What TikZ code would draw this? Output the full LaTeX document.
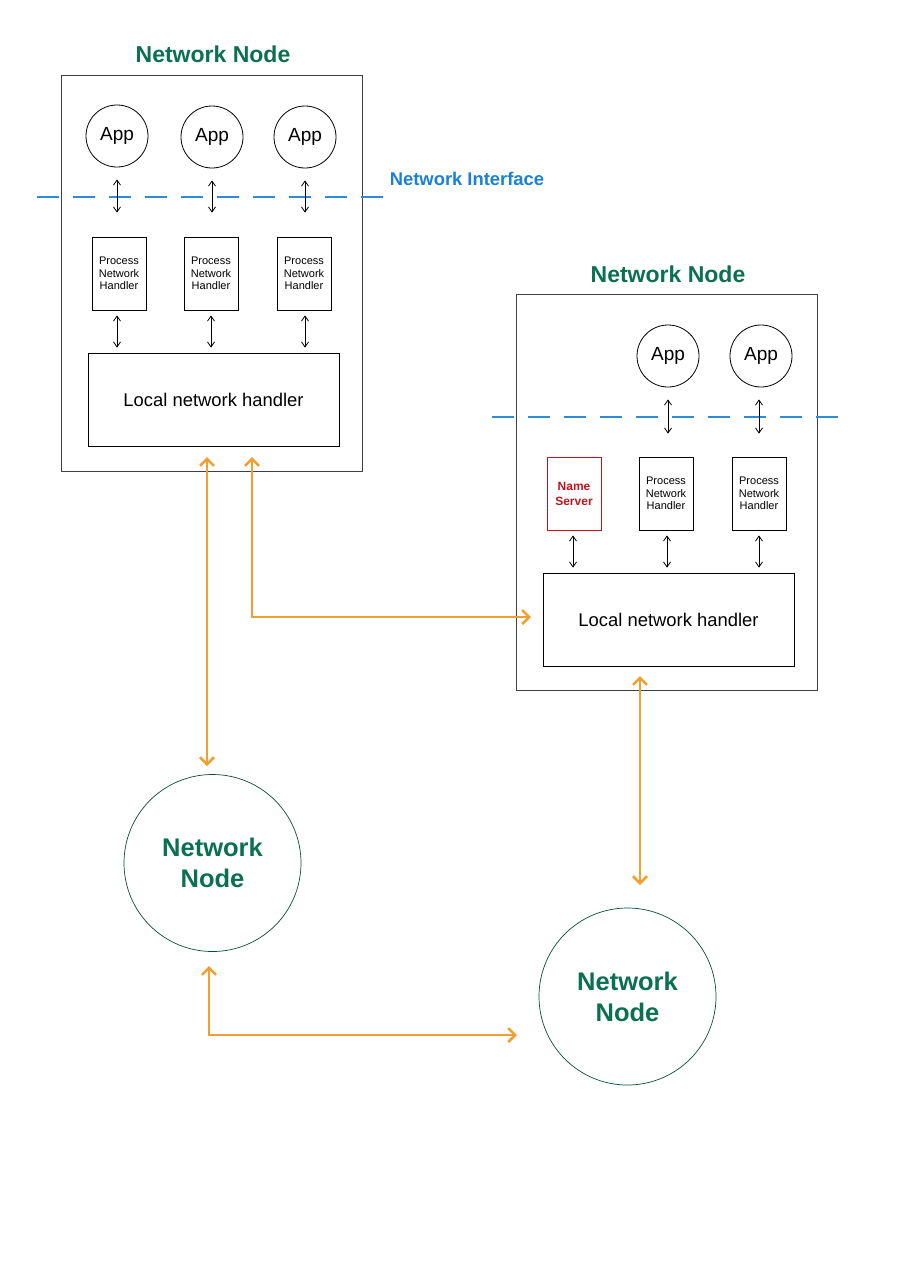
\documentclass[tikz,border=0pt]{standalone}
\usepackage{fontspec}
\setmainfont{Liberation Sans}
\usetikzlibrary{arrows.meta}
\definecolor{nodegreen}{HTML}{0A7050}
\definecolor{ifblue}{HTML}{1A80D8}
\definecolor{dashblue}{HTML}{2F8AD8}
\definecolor{orangec}{HTML}{F0A030}
\definecolor{nsred}{HTML}{C0141C}
\definecolor{boxgray}{HTML}{404040}
\tikzset{
  outerbox/.style={draw=boxgray, line width=1pt, minimum width=301pt, minimum height=396pt, inner sep=0pt},
  appnode/.style={circle, draw=black, line width=0.8pt, minimum size=62pt, inner sep=0pt, font=\fontsize{19}{22}\selectfont},
  pnhbox/.style={draw=black, line width=0.8pt, minimum width=54pt, minimum height=73pt, inner sep=0pt, align=center, font=\fontsize{11}{12.5}\selectfont},
  nsbox/.style={draw=nsred, line width=0.8pt, minimum width=54pt, minimum height=73pt, inner sep=0pt, align=center, text=nsred, font=\bfseries\fontsize{12}{15}\selectfont},
  lnhbox/.style={draw=black, line width=0.8pt, minimum width=251pt, minimum height=93pt, inner sep=0pt, font=\fontsize{18.4}{22}\selectfont},
  titletext/.style={text=nodegreen, font=\bfseries\fontsize{23}{26}\selectfont},
  bignode/.style={circle, draw=nodegreen!70!black, line width=0.7pt, minimum size=177pt, inner sep=0pt, align=center, text=nodegreen, font=\bfseries\fontsize{25.5}{31}\selectfont},
  iface/.style={draw=dashblue, line width=1.1pt, dash pattern=on 22pt off 14pt},
  sarrow/.style={draw=black, line width=0.8pt, {Straight Barb[length=5pt,width=7pt]}-{Straight Barb[length=5pt,width=7pt]}},
  oarrow/.style={draw=orangec, line width=2.5pt, {Straight Barb[length=7pt,width=14pt]}-{Straight Barb[length=7pt,width=14pt]}}
}
\begin{document}
\begin{tikzpicture}[x=1pt, y=-1pt]
\fill[white] (0,0) rectangle (905,1280);
\useasboundingbox (0,0) rectangle (905,1280);

% ---------- Node 1 ----------
\node[titletext] (t1) at (213,54) {Network Node};
\node[outerbox] (box1) at (211.5,273) {};
\node[appnode] (a11) at (117,136) {App};
\node[appnode] (a12) at (212,137) {App};
\node[appnode] (a13) at (305,137) {App};
\coordinate (if1l) at (37,197);
\coordinate (if1r) at (390,197);
\draw[iface] (if1l) -- (if1r);
\node[text=ifblue, font=\bfseries\fontsize{18.4}{21}\selectfont] (ni) at (467,179) {Network Interface};
\node[pnhbox] (p11) at (119,273.5) {Process\\Network\\Handler};
\node[pnhbox] (p12) at (211,273.5) {Process\\Network\\Handler};
\node[pnhbox] (p13) at (304,273.5) {Process\\Network\\Handler};
\node[lnhbox] (l1) at (213.5,399.5) {Local network handler};
\foreach \a/\p in {a11/p11,a12/p12,a13/p13}{
  \draw[sarrow] ([yshift=-12pt]\a.south) -- ([yshift=24pt]\p.north-|\a.south);
}
\draw[sarrow] ([yshift=-5pt]p11.south-|a11) -- ([yshift=5pt]l1.north-|a11);
\draw[sarrow] ([yshift=-5pt]p12.south) -- ([yshift=5pt]l1.north-|p12);
\draw[sarrow] ([yshift=-5pt]p13.south-|a13) -- ([yshift=5pt]l1.north-|a13);

% ---------- Node 2 ----------
\node[titletext] (t2) at (668,274) {Network Node};
\node[outerbox] (box2) at (667,492.5) {};
\node[appnode] (a22) at (668,356) {App};
\node[appnode] (a23) at (761,356) {App};
\coordinate (if2l) at (492,417);
\coordinate (if2r) at (845,417);
\draw[iface] (if2l) -- (if2r);
\node[nsbox] (ns) at (574,493.5) {Name\\Server};
\node[pnhbox] (p22) at (666,493.5) {Process\\Network\\Handler};
\node[pnhbox] (p23) at (759,493.5) {Process\\Network\\Handler};
\node[lnhbox] (l2) at (668.5,619.5) {Local network handler};
\draw[sarrow] ([yshift=-12pt]a22.south) -- ([yshift=23pt]p22.north-|a22);
\draw[sarrow] ([yshift=-12pt]a23.south-|p23) -- ([yshift=23pt]p23.north);
\draw[sarrow] ([yshift=-5pt]ns.south-|573,0) -- ([yshift=5pt]l2.north-|573,0);
\draw[sarrow] ([yshift=-5pt]p22.south-|667,0) -- ([yshift=5pt]l2.north-|667,0);
\draw[sarrow] ([yshift=-5pt]p23.south) -- ([yshift=5pt]l2.north-|p23);

% ---------- Circles ----------
\node[bignode] (n3) at (212.5,863) {Network\\Node};
\node[bignode] (n4) at (627.5,996.5) {Network\\Node};

% ---------- Orange links ----------
\coordinate (o1a) at (207,457);
\coordinate (o1b) at (207,766);
\draw[oarrow] (o1a) -- (o1b);
\coordinate (o2a) at (252,457);
\coordinate (o2b) at (531,617);
\draw[oarrow] (o2a) |- (o2b);
\coordinate (o3a) at (640,676);
\coordinate (o3b) at (640,885);
\draw[oarrow] (o3a) -- (o3b);
\coordinate (o4a) at (209,966);
\coordinate (o4b) at (517,1035);
\draw[oarrow] (o4a) |- (o4b);
\end{tikzpicture}
\end{document}
